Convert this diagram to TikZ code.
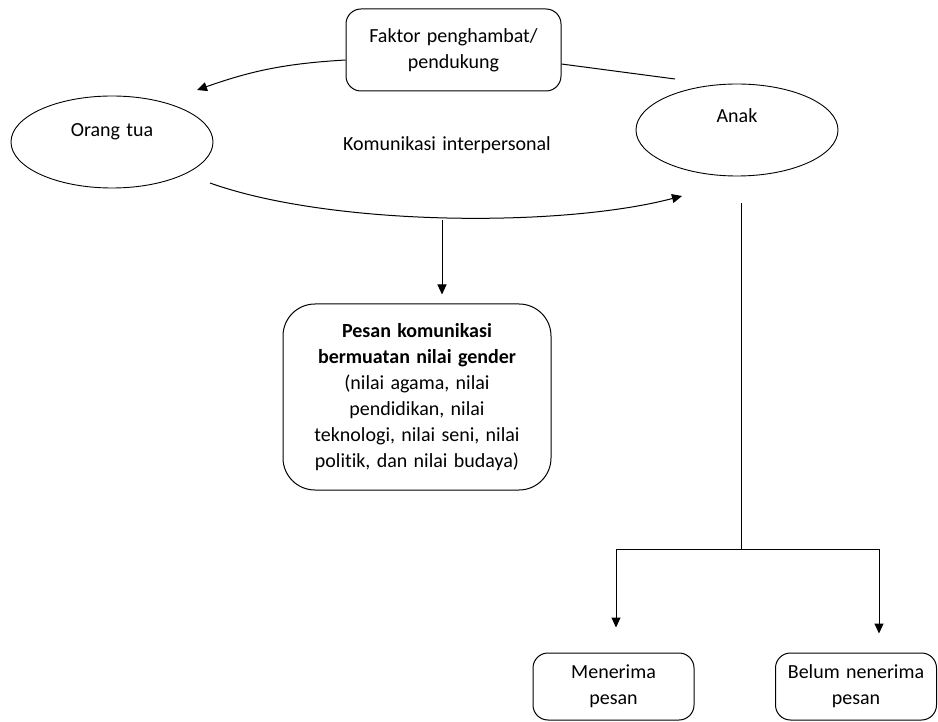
\documentclass[tikz,border=0pt]{standalone}
\usepackage{fontspec}
\setmainfont{Carlito}[Ligatures=NoCommon, WordSpace=1.4]
\usetikzlibrary{positioning, shapes.geometric, arrows.meta}

\begin{document}
\begin{tikzpicture}[x=1pt, y=-1pt, font=\fontsize{20}{26}\selectfont,
  kotak/.style={draw, rounded corners=15pt, align=center, line width=1pt},
  elips/.style={draw, ellipse, minimum width=202pt, minimum height=92pt, line width=0.9pt},
  panah/.style={-{Triangle[length=10pt,width=9pt]}, line width=1pt}]
  \useasboundingbox (0,0) rectangle (938,722);

  % simpul utama
  \node[kotak, minimum width=215pt, minimum height=82pt] (faktor) at (453.5,50) {Faktor penghambat/\\pendukung};
  \node[elips] (ortu) at (112,142) {};
  \node (ortulbl) at (112,132) {Orang tua};
  \node[elips] (anak) at (737,130) {};
  \node (anaklbl) at (737,116) {Anak};
  \node (komunikasi) at (447,145) {Komunikasi interpersonal};
  \node[kotak, rounded corners=32pt, minimum width=268pt, minimum height=186pt] (pesan) at (417,397)
    {\textbf{Pesan komunikasi}\\\textbf{bermuatan nilai gender}\\(nilai agama, nilai\\pendidikan, nilai\\teknologi, nilai seni, nilai\\politik, dan nilai budaya)};
  \node[kotak, minimum width=161pt, minimum height=67pt] (menerima) at (613.5,686.5) {Menerima\\pesan};
  \node[kotak, minimum width=161pt, minimum height=67pt] (belum) at (856,686.5) {Belum nenerima\\pesan};

  % titik bantu
  \coordinate (ujungkiri) at (197,90);
  \coordinate (ujungkanan) at (675,79);
  \coordinate (kiribawah) at (210,183);
  \coordinate (kananbawah) at (682,196);
  \coordinate (tengah) at (442,220);
  \coordinate (anakbawah) at (741,203);
  \coordinate (cabang) at (741,549);

  % penghubung
  \draw[panah] ([yshift=-10pt]faktor.west) to[bend right=8] (ujungkiri);
  \draw[line width=1pt] ([yshift=-14pt]faktor.east) -- (ujungkanan);
  \draw[panah] (kiribawah) .. controls (330,226) and (560,228) .. (kananbawah);
  \draw[panah, shorten >=9pt] (tengah) -- ([xshift=25pt]pesan.north);
  \draw[line width=1pt] (anakbawah) -- (cabang);
  \draw[panah, shorten >=25pt] (cabang) -| ([xshift=2.5pt]menerima.north);
  \draw[panah, shorten >=19pt] (cabang) -| ([xshift=23pt]belum.north);
\end{tikzpicture}
\end{document}
